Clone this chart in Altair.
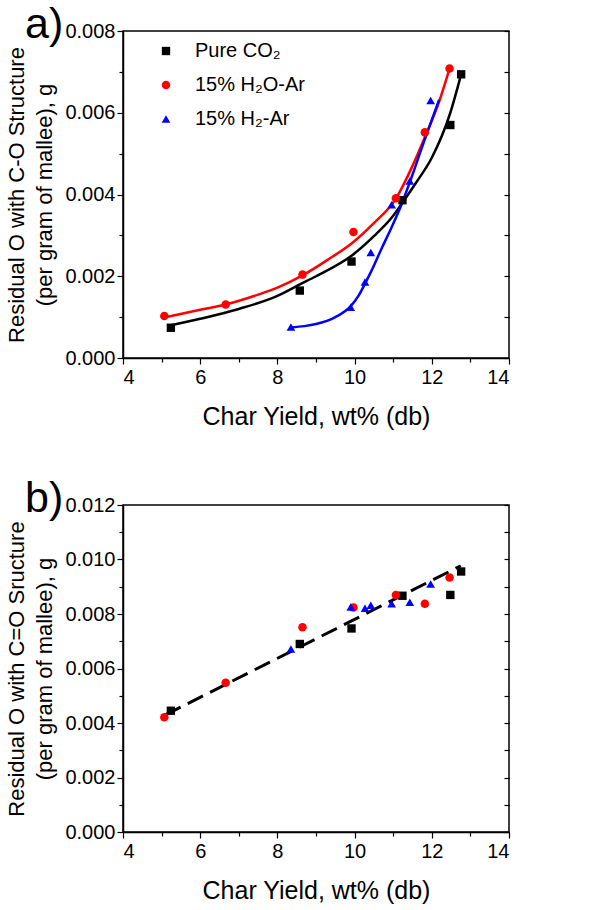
import altair as alt
import pandas as pd

FONT = "Liberation Sans"

series_names = ["Pure CO₂", "15% H₂O-Ar", "15% H₂-Ar"]
series_colors = ["#000000", "#ff0000", "#0000ff"]
series_shapes = ["square", "circle", "triangle-up"]
series_sizes = [70, 75, 105]

# Char yield, wt% (db), per atmosphere
co2_yield = [5.24, 8.58, 9.92, 11.24, 12.48, 12.76]
h2o_yield = [5.07, 6.66, 8.65, 9.97, 11.07, 11.82, 12.46]
h2_yield = [8.35, 9.90, 10.27, 10.42, 10.96, 11.43, 11.97]

# Residual O bound in C-O structures, g per g of mallee
co2_c_o = [0.00074, 0.00165, 0.00236, 0.00386, 0.00570, 0.00694]
h2o_c_o = [0.00103, 0.00131, 0.00204, 0.00308, 0.00391, 0.00552, 0.00708]
h2_c_o = [0.00076, 0.00124, 0.00186, 0.00258, 0.00375, 0.00433, 0.00630]

# Fitted growth curves through the C-O data (traced points along each curve)
co2_fit_x = [5.24, 6.0, 7.0, 8.0, 8.58, 9.0, 9.92, 10.5, 11.0, 11.24, 11.6, 12.0, 12.48, 12.76]
co2_fit_y = [0.00080, 0.00096, 0.00120, 0.00152, 0.00180, 0.00200, 0.00250, 0.00298,
             0.00348, 0.00380, 0.00430, 0.00490, 0.00600, 0.00694]
h2o_fit_x = [5.07, 6.0, 6.66, 7.5, 8.0, 8.65, 9.3, 9.97, 10.5, 11.07, 11.5, 11.82, 12.2, 12.46]
h2o_fit_y = [0.00099, 0.00118, 0.00131, 0.00155, 0.00172, 0.00202, 0.00240, 0.00284,
             0.00330, 0.00390, 0.00470, 0.00540, 0.00630, 0.00708]
h2_fit_x = [8.35, 8.7, 9.0, 9.5, 9.9, 10.1, 10.27, 10.42, 10.7, 10.96, 11.2, 11.43, 11.8, 12.19]
h2_fit_y = [0.00075, 0.00078, 0.00083, 0.00100, 0.00127, 0.00152, 0.00182, 0.00210,
            0.00268, 0.00320, 0.00372, 0.00430, 0.00530, 0.00632]

# Residual O bound in C=O structures, g per g of mallee
co2_c_do = [0.00445, 0.00690, 0.00747, 0.00867, 0.00870, 0.00956]
h2o_c_do = [0.00421, 0.00548, 0.00751, 0.00824, 0.00870, 0.00838, 0.00934]
h2_c_do = [0.00672, 0.00826, 0.00821, 0.00832, 0.00838, 0.00843, 0.00910]

# Linear trend drawn through the C=O data (end points)
trend_yield = [5.10, 12.75]
trend_c_do = [0.00430, 0.00977]

x_ticks = list(range(4, 15))
c_o_ticks = [0.000, 0.001, 0.002, 0.003, 0.004, 0.005, 0.006, 0.007, 0.008]
c_do_ticks = [0.000, 0.001, 0.002, 0.003, 0.004, 0.005, 0.006, 0.007, 0.008,
              0.009, 0.010, 0.011, 0.012]

W, H = 386, 327


def long_table(groups):
    rows = []
    for name, xs, ys in groups:
        rows += [{"yield": x, "value": y, "series": name} for x, y in zip(xs, ys)]
    return pd.DataFrame(rows)


x_enc = alt.X(
    "yield:Q",
    scale=alt.Scale(domain=[4, 14], nice=False, zero=False),
    axis=alt.Axis(
        values=x_ticks,
        labelExpr="datum.value % 2 === 0 ? datum.label : ''",
        tickSize={"condition": {"test": "datum.value % 2 === 0", "value": 6}, "value": 4},
        title="Char Yield, wt% (db)",
        titleFontSize=25,
        titlePadding=17,
        labelPadding=3,
        grid=False,
    ),
)


def y_scale(top):
    return alt.Scale(domain=[0, top], nice=False, zero=True)


def panel(values, top, ticks, title_lines, tag, curves):
    data = long_table(zip(series_names, [co2_yield, h2o_yield, h2_yield], values))
    ys = y_scale(top)

    left_axis = alt.Axis(
        values=ticks,
        format=".3f",
        labelExpr="round(datum.value * 1000) % 2 === 0 ? datum.label : ''",
        tickSize={"condition": {"test": "round(datum.value * 1000) % 2 === 0", "value": 6},
                  "value": 4},
        title=title_lines,
        titleFontSize=22,
        titleLineHeight=28,
        titlePadding=8,
        labelPadding=2,
        grid=False,
    )
    right_axis = alt.Axis(
        orient="right",
        values=ticks,
        labels=False,
        domain=False,
        tickSize=5,
        offset=-5,
        title="",
        grid=False,
    )

    points = alt.Chart(data).mark_point(filled=True, opacity=1, strokeWidth=0).encode(
        x=x_enc,
        y=alt.Y("value:Q", scale=ys, axis=left_axis),
        color=alt.Color(
            "series:N",
            scale=alt.Scale(domain=series_names, range=series_colors),
            legend=alt.Legend(
                title=None,
                orient="none",
                legendX=33,
                legendY=10,
                labelFontSize=20,
                labelFont=FONT,
                labelColor="black",
                labelOffset=19,
                rowPadding=14,
                symbolSize=85,
                symbolStrokeWidth=0,
            ),
        ),
        shape=alt.Shape(
            "series:N",
            scale=alt.Scale(domain=series_names, range=series_shapes),
        ),
        size=alt.Size(
            "series:N",
            scale=alt.Scale(domain=series_names, range=series_sizes),
            legend=None,
        ),
    )

    right_ticks = alt.Chart(data).mark_point(opacity=0).encode(
        x=x_enc,
        y=alt.Y("value:Q", scale=ys, axis=right_axis),
    )

    tag_text = alt.Chart(alt.Data(values=[{"tag": tag}])).mark_text(
        font=FONT, fontSize=43, align="left", baseline="alphabetic", color="black"
    ).encode(x=alt.value(-98), y=alt.value(7), text="tag:N")

    layers = [right_ticks] + curves(ys) + [points, tag_text]
    return alt.layer(*layers).resolve_axis(y="independent").properties(width=W, height=H)


def c_o_curves(ys):
    fits = [
        (co2_fit_x, co2_fit_y, series_colors[0]),
        (h2o_fit_x, h2o_fit_y, series_colors[1]),
        (h2_fit_x, h2_fit_y, series_colors[2]),
    ]
    return [
        alt.Chart(pd.DataFrame({"yield": fx, "value": fy}))
        .mark_line(color=color, strokeWidth=2.5, interpolate="monotone")
        .encode(x=x_enc, y=alt.Y("value:Q", scale=ys, axis=None))
        for fx, fy, color in fits
    ]


def c_do_curves(ys):
    trend = pd.DataFrame({"yield": trend_yield, "value": trend_c_do})
    return [
        alt.Chart(trend)
        .mark_line(color="black", strokeWidth=3, strokeDash=[17, 8])
        .encode(x=x_enc, y=alt.Y("value:Q", scale=ys, axis=None))
    ]


panel_a = panel([co2_c_o, h2o_c_o, h2_c_o], 0.008, c_o_ticks,
                ["Residual O with C-O Structure", "(per gram of mallee), g"], "a)", c_o_curves)
panel_b = panel([co2_c_do, h2o_c_do, h2_c_do], 0.012, c_do_ticks,
                ["Residual O with C=O Sructure", "(per gram of mallee), g"], "b)", c_do_curves)

chart = (
    alt.vconcat(panel_a, panel_b, spacing=47)
    .properties(padding={"left": 5, "top": 3, "right": 5, "bottom": 5})
    .configure_view(stroke="black", strokeWidth=1.5)
    .configure_axis(
        labelFont=FONT,
        titleFont=FONT,
        labelFontSize=20,
        labelColor="black",
        titleColor="black",
        titleFontWeight="normal",
        domainColor="black",
        domainWidth=1.5,
        tickColor="black",
        tickWidth=1.2,
    )
    .configure_legend(labelFont=FONT)
)

chart.save("out.html", embed_options={"renderer": "svg", "actions": False})
